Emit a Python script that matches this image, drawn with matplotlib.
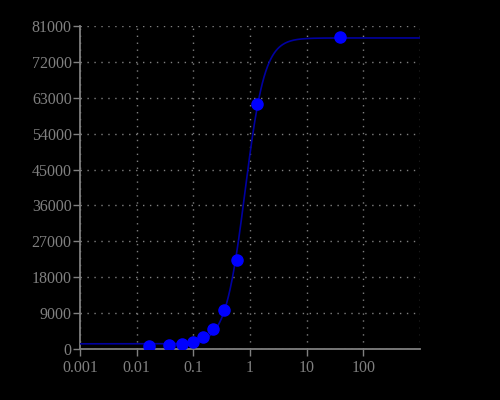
import numpy as np
import matplotlib.pyplot as plt

# measured points
conc = [0.0165, 0.037, 0.063, 0.1, 0.147, 0.222, 0.347, 0.588, 1.32, 38.5]
signal = [750, 1000, 1250, 1750, 3000, 5000, 9800, 22300, 61400, 78200]

# fitted 4PL curve parameters
bottom, top, ec50, hill = 1300, 78000, 0.82, 2.5

xticks = [0.001, 0.01, 0.1, 1, 10, 100]
xticklabels = ['0.001', '0.01', '0.1', '1', '10', '100']
yticks = list(range(0, 81001, 9000))

plt.rcParams['font.family'] = ['Liberation Serif', 'DejaVu Serif']
fg = '#808080'

fig = plt.figure(figsize=(5, 4), dpi=100, facecolor='black')
ax = fig.add_axes([0.16, 0.1275, 0.68, 0.8075], facecolor='black')

xs = np.logspace(-3, 3, 400)
ys = bottom + (top - bottom) / (1 + (ec50 / xs) ** hill)
ax.plot(xs, ys, color='#0000a0', lw=1.2, zorder=3)
ax.plot(conc, signal, 'o', color='#0000ff', ms=8, zorder=4)

ax.set_xscale('log')
ax.set_xlim(0.001, 1000)
ax.set_ylim(0, 81000)
ax.set_xticks(xticks)
ax.set_xticklabels(xticklabels)
ax.minorticks_off()
ax.set_yticks(yticks)
ax.set_yticklabels([str(v) for v in yticks])

grid_style = dict(color=fg, lw=1, ls=(0, (1, 4)))
ax.grid(True, **grid_style)
ax.axvline(1000, **grid_style)

for s in ['top', 'right']:
    ax.spines[s].set_visible(False)
for s in ['left', 'bottom']:
    ax.spines[s].set_color(fg)
    ax.spines[s].set_linewidth(1.3)
ax.tick_params(colors=fg, labelsize=11.5, length=5, width=1)
ax.tick_params(axis='y', pad=1)
ax.tick_params(axis='x', pad=3)

fig.savefig('out.png', facecolor='black')
